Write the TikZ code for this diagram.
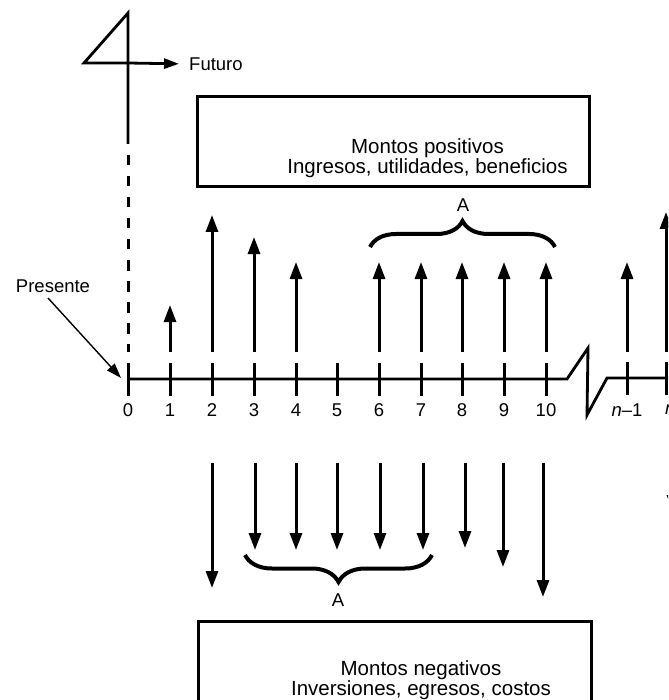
\documentclass[tikz,border=0pt]{standalone}
\usepackage{fontspec}
\setmainfont{Liberation Sans}
\usetikzlibrary{arrows.meta,decorations.pathreplacing}
\begin{document}
\begin{tikzpicture}[x=1pt,y=-1pt,
  axis/.style={line width=2.8pt, line join=miter},
  tickmark/.style={line width=3pt},
  flow/.style={line width=3pt,-{Triangle[length=17pt,width=12pt]}},
  pointer/.style={line width=1.4pt,-{Triangle[length=15pt,width=10pt]}},
  lbl/.style={font=\fontsize{18.5}{21}\selectfont, inner sep=0pt},
  boxtxt/.style={font=\fontsize{20.5}{20}\selectfont, align=center, inner sep=0pt},
  panel/.style={draw, line width=3pt, inner sep=0pt},
  grp/.style={decorate, line width=4pt},
]
\useasboundingbox (0,0) rectangle (668,700);
\clip (0,0) rectangle (668,700);

% boxes for positive and negative amounts
\node[panel, minimum width=392pt, minimum height=90pt] (posbox) at (393,142) {};
\node[boxtxt] (postxt) at (427.5,158) {Montos positivos\\Ingresos, utilidades, beneficios};
\node[panel, minimum width=393pt, minimum height=120pt, anchor=north west] (negbox) at (197,620) {};
\node[boxtxt] (negtxt) at (421,680) {Montos negativos\\Inversiones, egresos, costos};

% present / future marker
\coordinate (top) at (128,13);
\coordinate (corner) at (84,63);
\coordinate (solidend) at (128,144);
\coordinate (dashtop) at (128,155);
\coordinate (dashend) at (128,352);
\node[lbl, anchor=west] (fut) at (189,64) {Futuro};
\draw[axis] (solidend) -- (top) -- (corner) -- (128,63);
\draw[line width=2.8pt, -{Triangle[length=15pt,width=10pt]}, shorten >=10pt] (128,63) -- (fut.west);
\draw[line width=3pt, dash pattern=on 10.5pt off 10.5pt] (dashtop) -- (dashend);

% time axis with a break
\coordinate (t0) at (128,379);
\coordinate (b1) at (567,379);
\coordinate (b2) at (588,348);
\coordinate (b3) at (587,415);
\coordinate (b4) at (607,378);
\coordinate (tend) at (668,378);
\draw[axis] (t0) -- (b1) -- (b2) -- (b3) -- (b4) -- (tend);

\foreach \i/\x in {0/128,1/170,2/212,3/254,4/296,5/337,6/379,7/421,8/462,9/504,10/546}{
  \draw[tickmark] (\x,363) -- (\x,396);
  \node[lbl] (l\i) at (\x,410) {\i};
}
\draw[tickmark] (627,362) -- (627,395);
\draw[tickmark] (666,362) -- (666,395);
\node[lbl] (lnm) at (627,410) {\textit{n}--1};
\node[lbl, anchor=west] (ln) at (665,410) {\textit{n}};

% present label
\node[lbl] (pres) at (53,286) {Presente};
\coordinate (prestip) at (121,378);
\draw[pointer] (48,298) -- (prestip);

% positive cash flows
\foreach \x/\y in {170/305, 212/215, 254/237, 296/262, 379/262, 421/262, 462/262, 504/262, 546/262, 627/262, 666/212}
  \draw[flow] (\x,352) -- (\x,\y);

% negative cash flows
\foreach \x/\y in {212/588, 255/550, 296/550, 337/550, 380/550, 423/550, 465/548, 503/567, 543/597, 673/512}
  \draw[flow] (\x,463) -- (\x,\y);

% annuity braces
\coordinate (ua) at (370,247);
\coordinate (ub) at (555,247);
\draw[grp, decoration={brace, amplitude=26pt}] (ua) -- (ub);
\node[lbl] (uA) at (463,205) {A};
\coordinate (da) at (245,555);
\coordinate (db) at (432,555);
\draw[grp, decoration={brace, mirror, amplitude=27pt}] (da) -- (db);
\node[lbl] (dA) at (338,600) {A};
\end{tikzpicture}
\end{document}
